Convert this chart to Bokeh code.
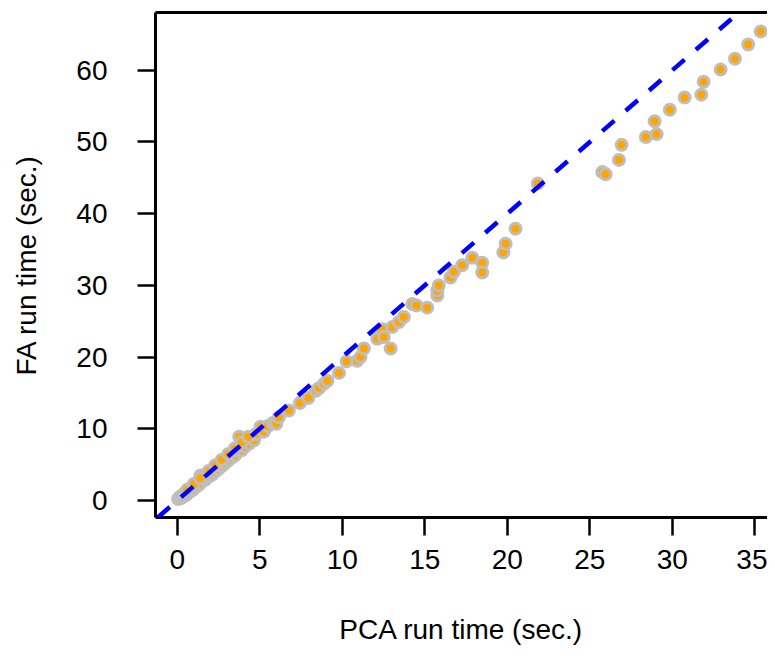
from bokeh.plotting import figure
from bokeh.models import Range1d, FixedTicker, LinearAxis, Slope
from bokeh.embed import file_html
from bokeh.resources import INLINE

# PCA run time (sec.) and FA run time (sec.)
pca_time = [0.05, 0.1, 0.15, 0.2, 0.3, 0.35, 0.4, 0.5, 0.55, 0.6, 0.7, 0.75, 0.8,
            0.9, 0.95, 1.0, 1.1, 1.15, 1.2, 1.3, 1.35, 1.41, 1.5, 1.6, 1.7, 1.8,
            1.9, 2.0, 2.1, 2.2, 2.3, 2.4, 2.5, 2.6, 2.7, 2.8, 2.9, 3.0, 3.1, 3.2,
            3.3, 3.4, 3.5, 3.6, 3.75, 3.8, 3.9, 4.0, 4.1, 4.2, 4.35, 4.5, 4.65,
            4.8, 5.05, 5.25, 5.5, 5.8, 6.0, 6.16, 6.76, 7.43,
            0.6, 1.0, 1.4, 1.9, 2.3, 2.7, 3.1, 3.5, 3.9, 4.3,
            7.94, 8.4, 8.6, 8.9, 9.1, 9.8, 10.26, 10.9, 11.1, 11.31, 12.12, 12.42,
            12.52, 12.93, 13.03, 13.43, 13.73, 14.24, 14.5, 15.15, 15.76, 15.76,
            15.85, 16.56, 16.77, 17.27, 17.88, 18.48, 18.48, 19.76, 19.9, 20.5,
            21.85, 25.76, 25.96, 26.77, 26.93, 28.4, 28.93, 29.05, 29.85, 30.75,
            31.76, 31.9, 32.93, 33.8, 34.6, 35.36]
fa_time = [0.2, 0.3, 0.5, 0.3, 0.7, 0.5, 0.9, 1.1, 0.8, 1.2, 1.4, 1.2, 1.6,
           1.8, 1.5, 2.0, 2.2, 1.9, 2.4, 2.6, 2.3, 3.5, 3.0, 3.1, 2.9, 3.5,
           3.3, 3.9, 3.6, 4.3, 4.0, 4.7, 4.4, 5.1, 4.8, 5.5, 5.2, 5.9, 5.6, 6.2,
           6.0, 6.6, 6.3, 7.0, 8.9, 7.4, 7.0, 7.8, 7.5, 8.2, 7.9, 8.7, 8.4,
           9.3, 10.3, 9.6, 10.4, 10.8, 10.7, 11.6, 12.55, 13.6,
           1.5, 2.3, 3.1, 4.1, 4.9, 5.7, 6.5, 7.3, 8.1, 8.9,
           14.3, 15.3, 15.7, 16.3, 16.7, 17.8, 19.4, 19.5, 20.0, 21.2, 22.55, 23.9,
           22.8, 21.2, 24.2, 24.9, 25.6, 27.4, 27.2, 26.9, 28.6, 29.3,
           30.0, 31.1, 31.9, 32.8, 33.85, 33.15, 31.8, 34.6, 35.8, 37.9,
           44.2, 45.8, 45.5, 47.5, 49.6, 50.7, 52.9, 51.1, 54.5, 56.2,
           56.6, 58.4, 60.1, 61.6, 63.6, 65.4]

x_ticks = [0, 5, 10, 15, 20, 25, 30, 35]
y_ticks = [0, 10, 20, 30, 40, 50, 60]
ref_slope = 2.0
ref_intercept = 0.0

FONT = "Liberation Sans"
FS = "28px"

p = figure(width=767, height=650, output_backend="svg", toolbar_location=None,
           x_range=Range1d(-1.32, 35.77), y_range=Range1d(-2.37, 68.06),
           x_axis_label="PCA run time (sec.)", y_axis_label="FA run time (sec.)",
           min_border_left=155, min_border_right=0, min_border_top=12,
           min_border_bottom=133)
p.outline_line_color = None
p.grid.visible = False
p.background_fill_color = "white"
p.border_fill_color = "white"

for ax, ticks in ((p.xaxis[0], x_ticks), (p.yaxis[0], y_ticks)):
    ax.ticker = FixedTicker(ticks=ticks)
    ax.axis_line_width = 3
    ax.axis_line_color = "black"
    ax.major_tick_line_width = 2.5
    ax.major_tick_line_color = "black"
    ax.major_tick_out = 18
    ax.major_tick_in = 0
    ax.minor_tick_line_color = None
    ax.major_label_text_font = FONT
    ax.major_label_text_font_size = FS
    ax.major_label_text_color = "black"
    ax.axis_label_text_font = FONT
    ax.axis_label_text_font_size = FS
    ax.axis_label_text_font_style = "normal"
    ax.axis_label_text_color = "black"

p.xaxis[0].major_label_standoff = 14
p.xaxis[0].axis_label_standoff = 42
p.yaxis[0].major_label_standoff = 30
p.yaxis[0].major_label_orientation = "horizontal"
p.yaxis[0].axis_label_standoff = 31

top = LinearAxis(ticker=FixedTicker(ticks=[]), axis_line_width=3,
                 axis_line_color="black", major_tick_line_color=None,
                 minor_tick_line_color=None, major_label_text_font_size="0px")
p.add_layout(top, "above")

p.scatter(pca_time, fa_time, size=11, fill_color="#FFA500", line_color="#BEBEBE",
          line_width=3)

p.add_layout(Slope(gradient=ref_slope, y_intercept=ref_intercept, line_color="#0000FF",
                   line_width=4.5, line_dash="16 15", line_cap="butt"))

open("out.html", "w").write(file_html(p, INLINE))
